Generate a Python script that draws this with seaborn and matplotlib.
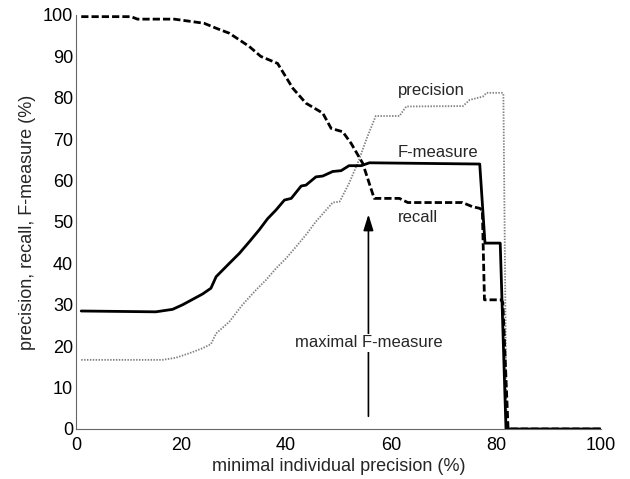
import numpy as np
import pandas as pd
import seaborn as sns
import matplotlib.pyplot as plt

# values
recall_x = [1, 10.5, 11.7, 18.7, 21, 24.4, 26.7, 29.2, 33, 35.2, 38.4, 41.3, 43.8, 47, 48.6,
            50.8, 52.4, 54.6, 56.8, 61.6, 63.2, 73.6, 75.5, 76.9, 77.4, 77.8, 81.0, 81.3, 82.3, 100]
recall_y = [99.6, 99.6, 99.0, 99.0, 98.6, 98.0, 96.8, 95.6, 92.4, 90.0, 88.3, 82.3, 78.7, 76.3, 72.6,
            71.8, 69.0, 64.2, 55.7, 55.7, 54.7, 54.7, 53.7, 53.3, 52.8, 31.2, 31.2, 30.5, 0, 0]

fmeasure_x = [1, 15.2, 18.4, 20.3, 22.2, 24.1, 25.7, 26.7, 29.2, 31.1, 33.0, 34.9, 36.5, 38.1,
              39.7, 41, 42.9, 43.8, 45.7, 47, 48.9, 50.5, 52, 54.3, 55.9, 76.9, 77.9, 80.8, 81.9, 100]
fmeasure_y = [28.5, 28.3, 28.9, 30.0, 31.3, 32.6, 34.0, 36.8, 40.0, 42.4, 45.2, 48.1, 50.8, 52.9,
              55.3, 55.7, 58.7, 58.9, 60.9, 61.1, 62.2, 62.4, 63.6, 63.6, 64.3, 64.0, 44.9, 44.9, 0, 0]

precision_x = [1, 16.5, 19, 21.6, 24.1, 25.7, 26.7, 29.2, 31.7, 34.3, 36.2, 38.1, 40, 41.9, 43.8,
               45.7, 48.9, 50.2, 52, 53.9, 55.5, 57.1, 61.6, 62.9, 73.7, 75, 77.5, 78.2, 81.1, 81.4, 82.0, 100]
precision_y = [16.7, 16.7, 17.2, 18.3, 19.5, 20.5, 23.1, 25.9, 30.0, 33.6, 36.0, 38.8, 41.2, 44.0, 46.9,
               50.1, 54.7, 54.9, 59.3, 65.0, 70.6, 75.6, 75.6, 77.9, 78.0, 79.5, 80.3, 81.2, 81.2, 81.0, 0, 0]

max_f_x = 55.7

sns.set_style("white")
plt.rcParams["font.family"] = ["Liberation Sans", "DejaVu Sans"]
plt.rcParams["font.size"] = 12

fig = plt.figure(figsize=(6.3, 4.79), dpi=100)
ax = fig.add_axes([0.1206, 0.1044, 0.8334, 0.8643])

sns.lineplot(x=precision_x, y=precision_y, ax=ax, sort=False, estimator=None,
             color="#808080", lw=1.3, linestyle=(0, (0.8, 0.8)))
sns.lineplot(x=recall_x, y=recall_y, ax=ax, sort=False, estimator=None,
             color="black", lw=2, linestyle=(0, (2.6, 1.1)))
sns.lineplot(x=fmeasure_x, y=fmeasure_y, ax=ax, sort=False, estimator=None,
             color="black", lw=2)

# arrow pointing at the maximal F-measure
ax.annotate("", xy=(max_f_x, 52.5), xytext=(max_f_x, 2.4),
            arrowprops=dict(arrowstyle="-|>,head_length=0.8,head_width=0.25", color="black", lw=1.2))
ax.text(max_f_x, 20.8, "maximal F-measure", ha="center", va="center", zorder=5,
        bbox=dict(facecolor="white", edgecolor="none", pad=1))

ax.text(61.3, 81.8, "precision", ha="left", va="center")
ax.text(61.3, 66.8, "F-measure", ha="left", va="center")
ax.text(61.3, 51.0, "recall", ha="left", va="center")

ax.set_xlim(0, 100)
ax.set_ylim(0, 100)
ax.set_xticks(np.arange(0, 101, 20))
ax.set_yticks(np.arange(0, 101, 10))
ax.set_xlabel("minimal individual precision (%)", fontsize=13, labelpad=3)
ax.set_ylabel("precision, recall, F-measure (%)", fontsize=13, labelpad=5)

sns.despine(ax=ax)
for s in ["left", "bottom"]:
    ax.spines[s].set_color("#666666")
    ax.spines[s].set_linewidth(0.8)
ax.tick_params(direction="in", length=4, width=0.8, color="#666666", labelcolor="black", labelsize=13)
ax.tick_params(axis="x", pad=6)
ax.tick_params(axis="y", pad=2)

fig.savefig("out.png", dpi=100)
